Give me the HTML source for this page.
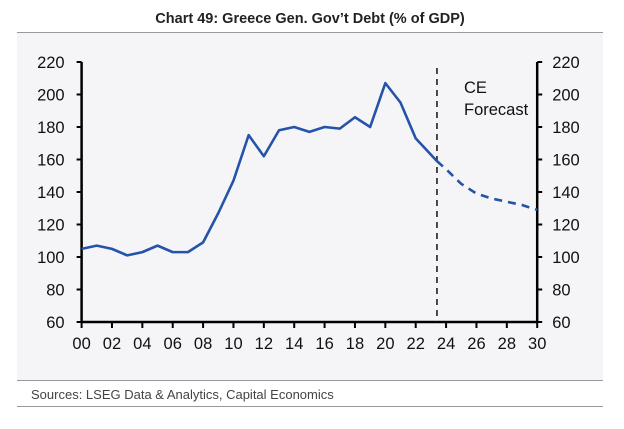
<!DOCTYPE html>
<html><head><meta charset="utf-8"><style>
body{margin:0;background:#fff;width:624px;height:424px;overflow:hidden;font-family:"Liberation Sans",sans-serif}
</style></head><body>
<svg width="624" height="424" xmlns="http://www.w3.org/2000/svg">
<rect x="0" y="0" width="624" height="424" fill="#ffffff"/>
<rect x="17" y="33" width="586" height="348" fill="#f5f5f7"/>
<text x="310" y="23" text-anchor="middle" font-size="14.5" font-weight="bold" fill="#222">Chart 49: Greece Gen. Gov’t Debt (% of GDP)</text>
<line x1="17" y1="32.5" x2="603" y2="32.5" stroke="#999" stroke-width="1"/>
<line x1="17" y1="380.5" x2="603" y2="380.5" stroke="#999" stroke-width="1"/>
<line x1="17" y1="406.5" x2="603" y2="406.5" stroke="#999" stroke-width="1"/>
<text x="31" y="399" font-size="13" fill="#444">Sources: LSEG Data &amp; Analytics, Capital Economics</text>
<g id="plot"></g>
</svg>
<script>
const years=[2000,2001,2002,2003,2004,2005,2006,2007,2008,2009,2010,2011,2012,2013,2014,2015,2016,2017,2018,2019,2020,2021,2022,2023.4];
const debt=[105,107,105,101,103,107,103,103,109,127,147,175,162,178,180,177,180,179,186,180,207,195,173,159];
const fYears=[2023.4,2024,2025,2026,2027,2028,2029,2030];
const fDebt=[159,154,145,139,136,134,132,129];
const yTicks=[60,80,100,120,140,160,180,200,220];
const xTicks=["00","02","04","06","08","10","12","14","16","18","20","22","24","26","28","30"];
const forecastStart=2023.4;
const NS="http://www.w3.org/2000/svg";
const X0=81.6,X1=537.2,Y0=322,Y1=62;
const xs=v=>X0+(v-2000)/30*(X1-X0);
const ys=v=>Y0-(v-60)/160*(Y0-Y1);
const g=document.getElementById('plot');
function mk(t,a){const e=document.createElementNS(NS,t);for(const k in a)e.setAttribute(k,a[k]);g.appendChild(e);return e;}
let e;
e=mk('line',{x1:X0,y1:Y1,x2:X0,y2:Y0,stroke:'#000','stroke-width':2.5});


e=mk('line',{x1:X1,y1:Y1,x2:X1,y2:Y0,stroke:'#000','stroke-width':2.5});


e=mk('line',{x1:X0,y1:Y0,x2:X1,y2:Y0,stroke:'#000','stroke-width':2.5});


yTicks.forEach(v=>{
 const y=ys(v);
 mk('line',{x1:X0,y1:y,x2:X0-5,y2:y,stroke:'#000','stroke-width':2});
 mk('line',{x1:X1,y1:y,x2:X1+5,y2:y,stroke:'#000','stroke-width':2});
 e=mk('text',{x:X0-17,y:y+6,'text-anchor':'end','font-size':16.5,fill:'#111'});e.textContent=v;
 
 
 e=mk('text',{x:X1+15,y:y+6,'text-anchor':'start','font-size':16.5,fill:'#111'});e.textContent=v;
 
 
});
xTicks.forEach(t=>{
 const x=xs(2000+ +t);
 mk('line',{x1:x,y1:Y0,x2:x,y2:Y0+6,stroke:'#000','stroke-width':2});
 e=mk('text',{x:x,y:Y0+27,'text-anchor':'middle','font-size':16.5,fill:'#111'});e.textContent=t;
 
 
});
const fx=xs(forecastStart);
e=mk('line',{x1:fx,y1:68,x2:fx,y2:Y0,stroke:'#111','stroke-width':1.5,'stroke-dasharray':'6,5'});


e=mk('text',{x:464,y:93,'font-size':16.5,fill:'#111'});e.textContent='CE';


e=mk('text',{x:464,y:115,'font-size':16.5,fill:'#111'});e.textContent='Forecast';


e=mk('polyline',{points:years.map((y,i)=>xs(y)+','+ys(debt[i])).join(' '),fill:'none',stroke:'#2553a8','stroke-width':2.6,'stroke-linejoin':'round'});


e=mk('polyline',{points:fYears.map((y,i)=>xs(y)+','+ys(fDebt[i])).join(' '),fill:'none',stroke:'#2553a8','stroke-width':2.6,'stroke-dasharray':'8,6'});


</script>
</body></html>
